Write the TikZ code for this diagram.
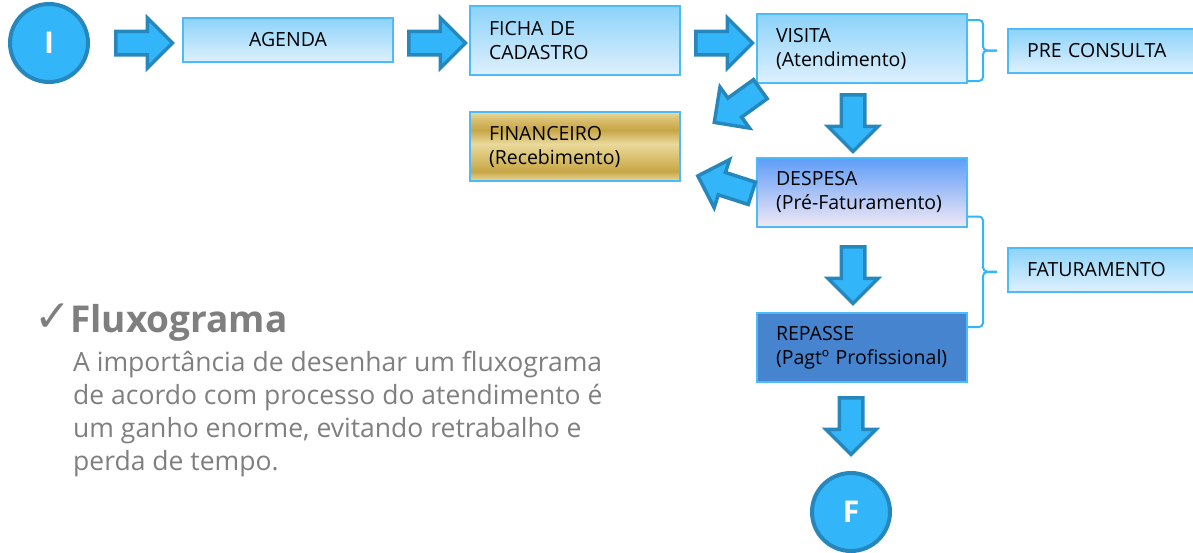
\documentclass[tikz,border=0pt]{standalone}
\usepackage{fontspec}
\setmainfont{Open Sans}
\newfontfamily\simbolo{DejaVu Sans}
\usepackage{xcolor}
\definecolor{setafill}{RGB}{51,181,250}
\definecolor{setadraw}{RGB}{37,135,187}
\definecolor{caixaborda}{RGB}{77,187,247}
\definecolor{caixatopo}{RGB}{140,211,250}
\definecolor{caixabase}{RGB}{222,240,253}
\definecolor{despesatopo}{RGB}{93,156,248}
\definecolor{despesabase}{RGB}{240,232,245}
\definecolor{repassefill}{RGB}{70,132,208}
\definecolor{textocinza}{RGB}{127,127,127}
\definecolor{ouroclaro}{RGB}{233,217,155}
\definecolor{ouromedio}{RGB}{218,193,112}
\definecolor{ouroescuro}{RGB}{199,165,70}
\usetikzlibrary{positioning}
\pgfdeclareverticalshading{ouro}{100bp}{color(0bp)=(ouroclaro); color(25bp)=(ouroclaro); color(32bp)=(ouroescuro); color(42bp)=(ouromedio); color(52bp)=(ouroclaro); color(62bp)=(ouroescuro); color(70bp)=(ouromedio); color(75bp)=(ouroclaro); color(100bp)=(ouroclaro)}
\tikzset{
  bloco/.style={draw=caixaborda, line width=2pt, minimum width=210pt, minimum height=69pt,
    inner sep=0pt, text width=172pt, align=left, font=\fontsize{19.5}{24}\selectfont},
  caixa/.style={bloco, top color=caixatopo, bottom color=caixabase},
  baixa/.style={minimum height=44pt},
  pics/seta/.style={code={
    \draw [draw=setadraw, fill=setafill, line width=3.5pt]
      (-28.75,-11.75) -- (2.75,-11.75) -- (2.75,-25.25) -- (28,0)
      -- (2.75,25.25) -- (2.75,11.75) -- (-28.75,11.75) -- cycle;
  }},
  terminal/.style={circle, draw=setadraw, fill=setafill, line width=4pt, minimum size=78pt,
    inner sep=0pt, text=white, font=\fontsize{30}{30}\selectfont\bfseries},
  chave/.style={draw=setafill, line width=2pt, rounded corners=4pt},
}

\begin{document}
\begin{tikzpicture}[x=1pt, y=-1pt]
  \clip (0,0) rectangle (1193,552);

  \node [terminal] (ini) at (49,43) {I};
  \pic (s1) at (144.5,43) {seta};
  \node [caixa, baixa, align=center] (agenda) at (288,40) {AGENDA};
  \pic (s2) at (437.5,43) {seta};
  \node [caixa] (ficha) at (575,40.5) {FICHA DE\\CADASTRO};
  \pic (s3) at (724.5,43) {seta};
  \node [caixa] (visita) at (862,48.5) {VISITA\\(Atendimento)};
  \node [caixa, baixa] (precons) at (1113,50.5) {PRE CONSULTA};

  % visita -> financeiro / despesa
  \pic [rotate=215.8] (s4) at (737,106) {seta};
  \pic [rotate=-90] (s5) at (853,123.5) {seta};
  \node [bloco, shading=ouro] (financ) at (575,146.5) {FINANCEIRO\\(Recebimento)};
  \node [bloco, top color=despesatopo, bottom color=despesabase] (despesa) at (862,192)
    {DESPESA\\(Pré-Faturamento)};
  \pic [rotate=162.2] (s6) at (724.5,184.5) {seta};

  \node [caixa, baixa] (fatur) at (1113,269.5) {FATURAMENTO};
  \pic [rotate=-90] (s7) at (853,275.5) {seta};
  \node [bloco, fill=repassefill] (repasse) at (862,347.5) {REPASSE\\(Pagtº Profissional)};
  \pic [rotate=-90] (s8) at (851,426.5) {seta};
  \node [terminal] (fim) at (851,512) {F};

  % chaves
  \draw [chave] ([yshift=-7pt]visita.north east) -- ++(15,0) -- ++(0,30.5) -- ++(14,0);
  \draw [chave] ([yshift=3pt]visita.south east) -- ++(15,0) -- ++(0,-30.5) -- ++(14,0);
  \draw [chave] ([yshift=11pt]despesa.south east) -- ++(15,0) -- ++(0,55) -- ++(14,0);
  \draw [chave] ([yshift=-15pt]repasse.north east) -- ++(15,0) -- ++(0,-55) -- ++(14,0);

  % texto
  \node [anchor=base west, inner sep=0pt, text=textocinza, font=\simbolo\fontsize{44}{44}\selectfont]
    (marca) at (34,331) {✓};
  \node [anchor=base west, inner sep=0pt, text=textocinza, font=\fontsize{37}{37}\selectfont\bfseries]
    (titulo) at (70,332) {Fluxograma};
  \node [anchor=base west, inner sep=0pt, text=textocinza, align=left,
    font=\fontsize{26.5}{33}\selectfont] (texto) at (73,470)
    {A importância de desenhar um fluxograma\\de acordo com processo do atendimento é\\um ganho enorme, evitando retrabalho e\\perda de tempo.};
\end{tikzpicture}
\end{document}
